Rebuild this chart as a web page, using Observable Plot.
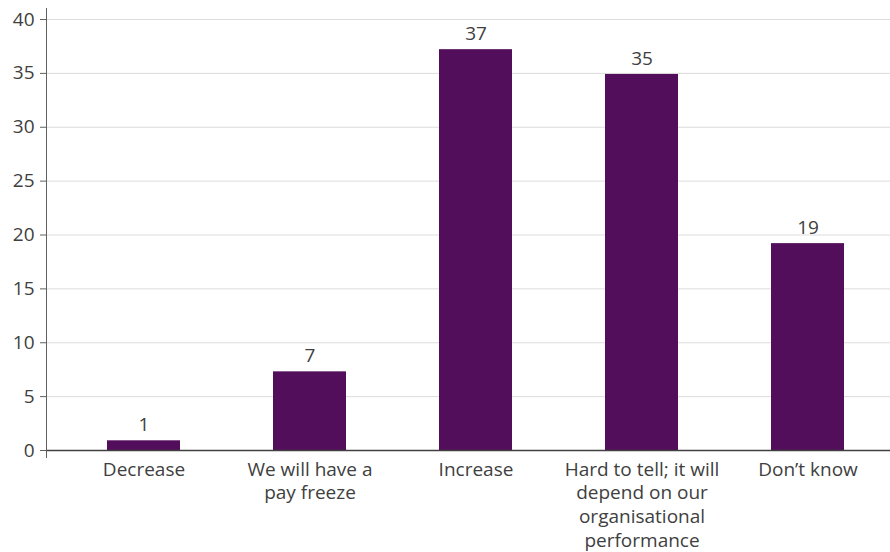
<!DOCTYPE html>
<html>
<head>
<meta charset="utf-8">
<script src="https://cdn.jsdelivr.net/npm/d3@7"></script>
<script src="https://cdn.jsdelivr.net/npm/@observablehq/plot@0.6"></script>
<style>
  html, body { margin: 0; padding: 0; background: #fff; }
  #chart { width: 890px; height: 552px; }
</style>
</head>
<body>
<div id="chart"></div>
<script>
const categories = [
  "Decrease",
  "We will have a\npay freeze",
  "Increase",
  "Hard to tell; it will\ndepend on our\norganisational\nperformance",
  "Don’t know"
];
const values = [0.9, 7.3, 37.2, 34.9, 19.2];
const valueLabels = ["1", "7", "37", "35", "19"];
const yTicks = [0, 5, 10, 15, 20, 25, 30, 35, 40];

const data = categories.map((c, i) => ({category: c, value: values[i], label: valueLabels[i]}));

const textColor = "#404040";
const font = "'Open Sans', sans-serif";

const chart = Plot.plot({
  width: 890,
  height: 552,
  marginLeft: 46,
  marginRight: 0,
  marginTop: 19,
  marginBottom: 102,
  style: {fontFamily: font, fontSize: "19px", color: textColor, background: "#fff"},
  x: {domain: categories, range: [61, 891], paddingInner: 0.56, paddingOuter: 0.28, label: null},
  y: {domain: [0, 40], ticks: yTicks, label: null},
  marks: [
    Plot.gridY(yTicks, {stroke: "#dcdcdc", strokeOpacity: 1, strokeWidth: 1}),
    Plot.barY(data, {x: "category", y: "value", fill: "#530E5B"}),
    Plot.text(data, {x: "category", y: "value", text: "label", dy: -16, fill: textColor, fontSize: 19}),
    Plot.ruleY([0], {stroke: "#404040", strokeWidth: 1.5}),
    Plot.frame({anchor: "left", stroke: "#606060", insetTop: -11, insetBottom: -7}),
    Plot.axisY(yTicks, {tickSize: 6, tickPadding: 6, stroke: "#606060", fontSize: 19, fill: textColor, label: null}),
    Plot.axisX({tickSize: 0, tickPadding: 8, fontSize: 19, lineHeight: 1.26, fill: textColor, label: null})
  ]
});
document.getElementById("chart").appendChild(chart);
</script>
</body>
</html>
